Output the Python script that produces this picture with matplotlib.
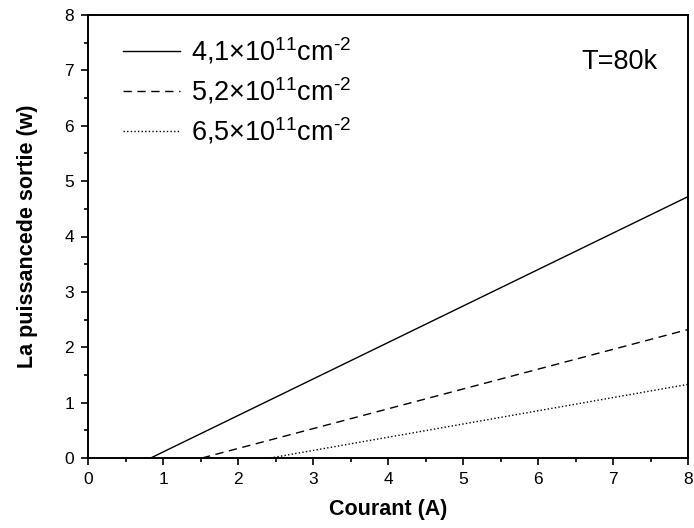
import matplotlib
matplotlib.use("Agg")
import matplotlib.pyplot as plt
from matplotlib.ticker import MultipleLocator

plt.rcParams['font.family'] = ['Liberation Sans', 'DejaVu Sans']
plt.rcParams['mathtext.fontset'] = 'custom'
plt.rcParams['mathtext.rm'] = 'Liberation Sans'
plt.rcParams['mathtext.it'] = 'Liberation Sans:italic'
plt.rcParams['mathtext.bf'] = 'Liberation Sans:bold'

# Output power vs. current for three carrier densities (T = 80 K)
labels = [r'4,1$\times$10$^{11}$cm$^{\text{-2}}$',
          r'5,2$\times$10$^{11}$cm$^{\text{-2}}$',
          r'6,5$\times$10$^{11}$cm$^{\text{-2}}$']
current_start = [0.836, 1.52, 2.43]  # threshold current (A), power = 0
current_end = [8.0, 8.0, 8.0]
power_end = [4.72, 2.32, 1.33]       # output power at 8 A (W)
styles = ['-', (0, (6, 4)), (0, (1, 1.6))]

fig = plt.figure(figsize=(6.94, 5.28), dpi=100)
ax = fig.add_axes([88 / 694, 70 / 528, 600 / 694, 443 / 528])

for x0, x1, y1, ls, lab in zip(current_start, current_end, power_end, styles, labels):
    ax.plot([x0, x1], [0, y1], color='black', linestyle=ls, linewidth=1.0, label=lab)

ax.set_xlim(0, 8)
ax.set_ylim(0, 8)
ax.xaxis.set_major_locator(MultipleLocator(1))
ax.xaxis.set_minor_locator(MultipleLocator(0.5))
ax.yaxis.set_major_locator(MultipleLocator(1))
ax.yaxis.set_minor_locator(MultipleLocator(0.5))
ax.tick_params(which='both', direction='out', width=1.2, labelsize=12.5,
               color='black', pad=5)
ax.tick_params(which='major', length=5)
ax.tick_params(which='minor', length=3)
for s in ax.spines.values():
    s.set_linewidth(1.4)

ax.set_xlabel('Courant (A)', fontsize=15.5, fontweight='bold', labelpad=9)
ax.set_ylabel('La puissancede sortie (w)', fontsize=15.5, fontweight='bold', labelpad=19)

ax.legend(loc='upper left', bbox_to_anchor=(0.059, 0.954), frameon=False,
          fontsize=19.5, handlelength=2.08, handletextpad=0.42, labelspacing=0.34,
          borderaxespad=0, borderpad=0)

ax.text(0.823, 0.894, 'T=80k', transform=ax.transAxes, fontsize=19.5,
        va='center', ha='left')

fig.savefig('out.png', dpi=100)
